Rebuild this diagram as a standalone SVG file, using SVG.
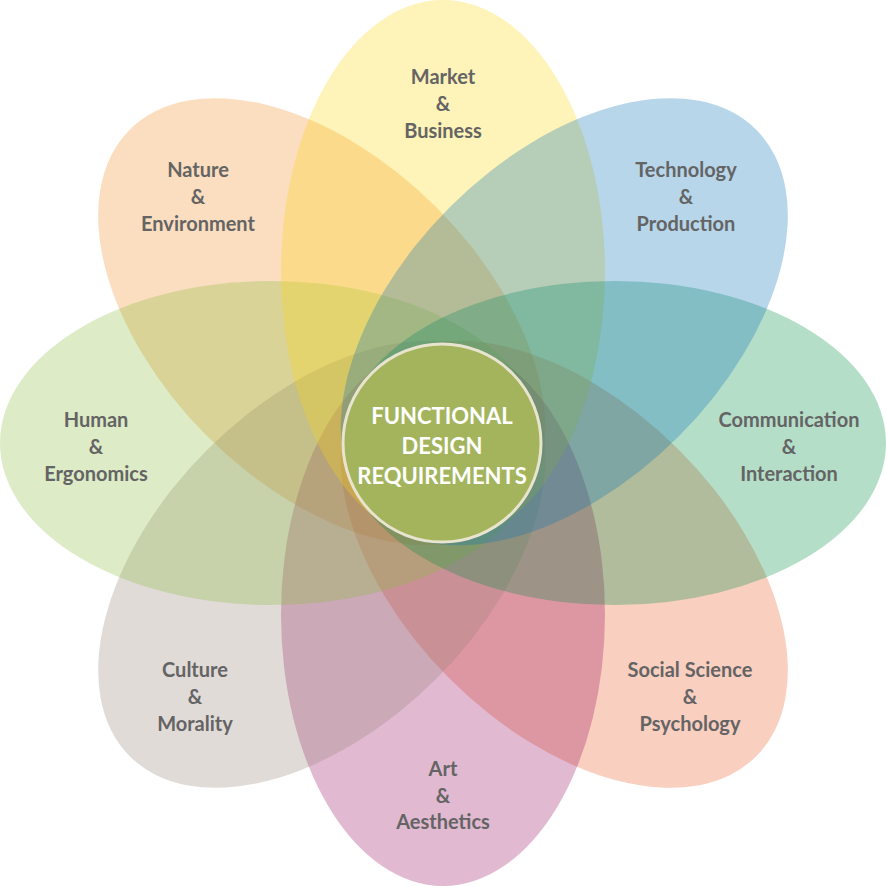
<svg xmlns="http://www.w3.org/2000/svg" width="886" height="886" viewBox="0 0 886 886">
<style>
.petal{fill-opacity:0.29}
.lbl{font-family:Lato,"Open Sans","Liberation Sans",sans-serif;font-weight:bold;font-size:20px;fill:#646464;text-anchor:middle}
.ctr{font-family:Lato,"Open Sans","Liberation Sans",sans-serif;font-weight:bold;font-size:22px;fill:#ffffff;text-anchor:middle}
</style>
<rect width="886" height="886" fill="#ffffff"/>
<defs><ellipse id="pe" cx="443" cy="271.5" rx="162" ry="271.5"/></defs>
<g id="petals">
<g id="nature"><use href="#pe" class="petal" fill="#F18D22" transform="rotate(315 443 443)"/></g>
<g id="social"><use href="#pe" class="petal" fill="#EA5926" transform="rotate(135 443 443)"/></g>
<g id="art"><use href="#pe" class="petal" fill="#980E5D" transform="rotate(180 443 443)"/></g>
<g id="culture"><use href="#pe" class="petal" fill="#988379" transform="rotate(225 443 443)"/></g>
<g id="human"><use href="#pe" class="petal" fill="#8ABA3A" transform="rotate(270 443 443)"/></g>
<g id="market"><use href="#pe" class="petal" fill="#FCD60E"/></g>
<g id="communication"><use href="#pe" class="petal" fill="#008D45" transform="rotate(90 443 443)"/></g>
<g id="technology"><use href="#pe" class="petal" fill="#0772B7" transform="rotate(45 443 443)"/></g>
</g>
<g id="labels">
<text class="lbl"><tspan x="443" y="84">Market</tspan><tspan x="443" y="111">&amp;</tspan><tspan x="443" y="138">Business</tspan></text>
<text class="lbl"><tspan x="686" y="177">Technology</tspan><tspan x="686" y="204">&amp;</tspan><tspan x="686" y="231">Production</tspan></text>
<text class="lbl"><tspan x="789" y="427">Communication</tspan><tspan x="789" y="454">&amp;</tspan><tspan x="789" y="481">Interaction</tspan></text>
<text class="lbl"><tspan x="690" y="677">Social Science</tspan><tspan x="690" y="704">&amp;</tspan><tspan x="690" y="731">Psychology</tspan></text>
<text class="lbl"><tspan x="443" y="776">Art</tspan><tspan x="443" y="803">&amp;</tspan><tspan x="443" y="829">Aesthetics</tspan></text>
<text class="lbl"><tspan x="195" y="677">Culture</tspan><tspan x="195" y="704">&amp;</tspan><tspan x="195" y="731">Morality</tspan></text>
<text class="lbl"><tspan x="96" y="427">Human</tspan><tspan x="96" y="454">&amp;</tspan><tspan x="96" y="481">Ergonomics</tspan></text>
<text class="lbl"><tspan x="198" y="177">Nature</tspan><tspan x="198" y="204">&amp;</tspan><tspan x="198" y="231">Environment</tspan></text>
</g>
<g id="center">
<circle cx="442" cy="443" r="99" fill="#A4B45C" stroke="#E8E4CF" stroke-width="3"/>
<text class="ctr"><tspan x="442" y="424">FUNCTIONAL</tspan><tspan x="442" y="454">DESIGN</tspan><tspan x="442" y="484">REQUIREMENTS</tspan></text>
</g>
</svg>
